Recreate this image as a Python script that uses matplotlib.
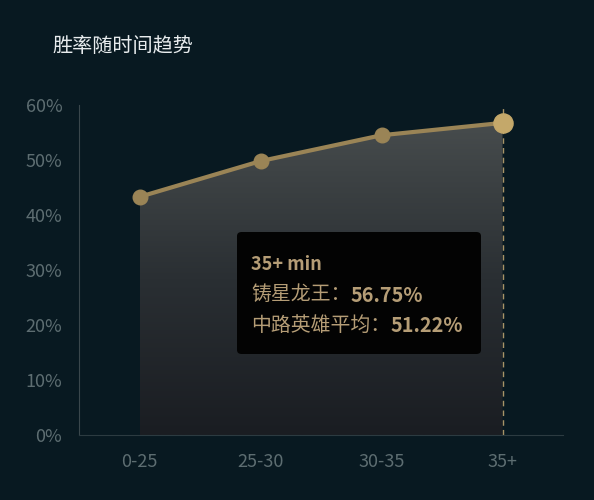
import matplotlib
matplotlib.use("Agg")
import matplotlib.pyplot as plt
from matplotlib.patches import FancyBboxPatch
from matplotlib.colors import LinearSegmentedColormap
import numpy as np

plt.rcParams['font.family'] = ['Noto Sans CJK SC', 'DejaVu Sans']

categories = ["0-25", "25-30", "30-35", "35+"]
win_rate = [43.3, 49.8, 54.5, 56.75]
yticks = [0, 10, 20, 30, 40, 50, 60]
title = "胜率随时间趋势"
tip_head = "35+ min"
tip_rows = [("铸星龙王：", "56.75%"), ("中路英雄平均：", "51.22%")]

BG = "#081921"
GOLD = "#9a8456"
TXT = "#5d6d71"

fig = plt.figure(figsize=(5.94, 5.0), dpi=100, facecolor=BG)
ax = fig.add_axes([79 / 594, 65 / 500, 484 / 594, 330 / 500])
ax.set_facecolor(BG)

x = np.arange(len(categories))
ax.set_xlim(-0.5, len(categories) - 0.5)
ax.set_ylim(0, 60)

# gradient fill under the line
poly = ax.fill_between(x, win_rate, 0, color="none")
grad = np.linspace(0, 1, 256).reshape(-1, 1)
cmap = LinearSegmentedColormap.from_list("g", ["#1a1d22", "#2a2f33", "#474c4d"])
im = ax.imshow(grad, cmap=cmap, aspect="auto", origin="lower",
               extent=[x[0], x[-1], 0, max(win_rate)], zorder=1)
im.set_clip_path(poly.get_paths()[0], transform=ax.transData)

ax.plot(x, win_rate, color=GOLD, lw=3, zorder=3)
ax.scatter(x[:-1], win_rate[:-1], s=110, color=GOLD, zorder=4)
ax.scatter(x[-1:], win_rate[-1:], s=190, color="#c4a86a", zorder=5)

# hover marker line
ax.plot([x[-1], x[-1]], [0, 59.5], color="#a89468", lw=1, ls=(0, (4, 3)), zorder=2)

for s in ["top", "right"]:
    ax.spines[s].set_visible(False)
ax.spines["left"].set_color("#3a474c")
ax.spines["bottom"].set_color("#2c3b41")
ax.spines["left"].set_bounds(0, 60)
ax.set_yticks(yticks)
ax.set_yticklabels([f"{v}%" for v in yticks])
ax.set_xticks(x)
ax.set_xticklabels(categories)
ax.tick_params(length=0, colors=TXT, labelsize=13)
ax.tick_params(axis="x", pad=13)
ax.tick_params(axis="y", pad=12)

fig.text(52 / 594, 1 - 46 / 500, title, color="#e8ecee", fontsize=14.5,
         va="center")

# tooltip
box = FancyBboxPatch((237 / 594, 1 - 354 / 500), 244 / 594, 122 / 500,
                     boxstyle="round,pad=0,rounding_size=0.008",
                     transform=fig.transFigure, facecolor="#030303",
                     edgecolor="none", zorder=10)
fig.patches.append(box)
TIP = "#b59d76"
fig.text(251 / 594, 1 - 264 / 500, tip_head, color=TIP, fontsize=13,
         fontweight="bold", va="center", zorder=11)
for i, (lab, val) in enumerate(tip_rows):
    yy = 1 - (295 + 30 * i) / 500
    t = fig.text(251 / 594, yy, lab, color=TIP, fontsize=14.3, va="center", zorder=11)
    fig.canvas.draw()
    bb = t.get_window_extent()
    fig.text(bb.x1 / 594, yy, val, color=TIP, fontsize=14.3, fontweight="bold",
             va="center", zorder=11)

fig.savefig("out.png", dpi=100, facecolor=BG)
